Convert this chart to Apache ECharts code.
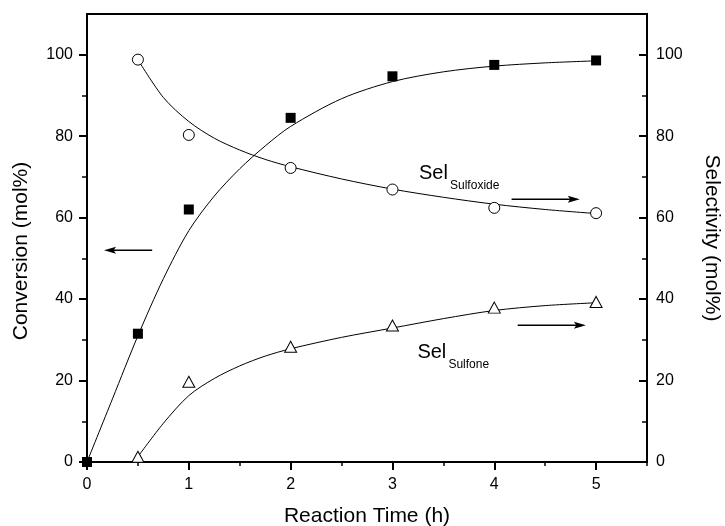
<!DOCTYPE html>
<html>
<head>
<meta charset="utf-8">
<script src="https://cdn.jsdelivr.net/npm/echarts@6/dist/echarts.min.js"></script>
<style>
  html, body { margin: 0; padding: 0; background: #fff; }
  #chart { width: 725px; height: 526px; }
</style>
</head>
<body>
<div id="chart"></div>
<script>
const FONT = '"Liberation Sans", Arial, Helvetica, sans-serif';

// Measured points: conversion (left axis)
const convTime = [0, 0.5, 1, 2, 3, 4, 5];
const conversion = [0, 31.5, 62, 84.5, 94.7, 97.5, 98.6];

// Measured points: selectivities (right axis)
const selTime = [0.5, 1, 2, 3, 4, 5];
const selSulfoxide = [98.8, 80.3, 72.2, 66.9, 62.4, 61.1];
const selSulfone = [1.3, 19.7, 28.3, 33.5, 37.9, 39.3];

// Fitted trend curves
const convFitTime = [0, 0.25, 0.5, 0.75, 1, 1.25, 1.5, 1.75, 2, 2.5, 3, 3.5, 4, 4.5, 5];
const convFit = [0, 15.5, 31, 45, 56.8, 65.3, 72, 77.6, 82.4, 89.2, 93.4, 95.8, 97.2, 98, 98.5];
const selFitTime = [0.5, 0.75, 1, 1.25, 1.5, 1.75, 2, 2.5, 3, 3.5, 4, 4.5, 5];
const sulfoxideFit = [98.8, 89.5, 83.6, 79.5, 76.6, 74.3, 72.5, 69.5, 67.0, 65.0, 63.3, 62.0, 61.0];
const sulfoneFit = [1.3, 9.5, 16.3, 20.5, 23.6, 26, 27.8, 30.6, 32.9, 35.2, 37.2, 38.4, 39.1];

// Axis ticks
const xMajor = [0, 1, 2, 3, 4, 5];
const xMinor = [0.5, 1.5, 2.5, 3.5, 4.5, 5.5];
const yMajor = [0, 20, 40, 60, 80, 100];
const yMinor = [10, 30, 50, 70, 90];

// Arrow annotations in data units (axis: 'left' or 'right')
const arrows = [
  { axis: 'left', y: 52, from: 0.64, to: 0.167 },
  { axis: 'right', y: 64.5, from: 4.17, to: 4.84 },
  { axis: 'right', y: 33.6, from: 4.23, to: 4.90 }
];
// Series labels: main text + subscript, anchored in data units on the right axis
const seriesLabels = [
  { x: 3.261, y: 70.9, main: 'Sel', sub: 'Sulfoxide' },
  { x: 3.245, y: 26.9, main: 'Sel', sub: 'Sulfone' }
];

const zip = (xs, ys) => xs.map((x, i) => [x, ys[i]]);

const chart = echarts.init(document.getElementById('chart'), null, { renderer: 'canvas' });

function xAxisOf(ticks, showLine, len, width, showLabel) {
  return {
    type: 'value', min: 0, max: 5.5, position: 'bottom',
    axisLine: { show: showLine, onZero: false, lineStyle: { color: '#000', width: 2 } },
    axisTick: { show: true, inside: false, length: len, customValues: ticks,
                lineStyle: { color: '#000', width: width } },
    axisLabel: { show: showLabel, customValues: ticks, margin: 15,
                 color: '#000', fontSize: 16, fontFamily: FONT },
    splitLine: { show: false }
  };
}
function yAxisOf(pos, ticks, showLine, len, width, showLabel, inside, margin) {
  return {
    type: 'value', min: 0, max: 110, position: pos,
    axisLine: { show: showLine, onZero: false, lineStyle: { color: '#000', width: 2 } },
    axisTick: { show: true, inside: inside, length: len, customValues: ticks,
                lineStyle: { color: '#000', width: width } },
    axisLabel: { show: showLabel, customValues: ticks, margin: margin,
                 color: '#000', fontSize: 16, fontFamily: FONT },
    splitLine: { show: false }
  };
}

const lineStyle = { color: '#000', width: 1 };

chart.setOption({
  animation: false,
  backgroundColor: '#fff',
  grid: { left: 87, right: 78, top: 14, bottom: 64, show: true,
          borderColor: '#000', borderWidth: 2, backgroundColor: 'transparent' },
  xAxis: [
    xAxisOf(xMajor, true, 8, 2, true),
    xAxisOf(xMinor, false, 4, 1.5, false)
  ],
  yAxis: [
    yAxisOf('left', yMajor, true, 8, 2, true, false, 14),
    yAxisOf('left', yMinor, false, 5, 1.5, false, false, 14),
    yAxisOf('right', yMajor, true, 8, 2, true, true, 9),
    yAxisOf('right', yMinor, false, 5, 1.5, false, true, 9)
  ],
  series: [
    { type: 'line', name: 'Conversion fit', xAxisIndex: 0, yAxisIndex: 0,
      data: zip(convFitTime, convFit), smooth: 0.3, showSymbol: false,
      lineStyle: lineStyle, silent: true, z: 2 },
    { type: 'line', name: 'Sulfoxide fit', xAxisIndex: 0, yAxisIndex: 2,
      data: zip(selFitTime, sulfoxideFit), smooth: 0.3, showSymbol: false,
      lineStyle: lineStyle, silent: true, z: 2 },
    { type: 'line', name: 'Sulfone fit', xAxisIndex: 0, yAxisIndex: 2,
      data: zip(selFitTime, sulfoneFit), smooth: 0.3, showSymbol: false,
      lineStyle: lineStyle, silent: true, z: 2 },
    { type: 'scatter', name: 'Conversion', xAxisIndex: 0, yAxisIndex: 0,
      data: zip(convTime, conversion), symbol: 'rect', symbolSize: 10, clip: false,
      itemStyle: { color: '#000', opacity: 1 }, z: 4 },
    { type: 'scatter', name: 'Sel Sulfoxide', xAxisIndex: 0, yAxisIndex: 2,
      data: zip(selTime, selSulfoxide), symbol: 'circle', symbolSize: 11,
      itemStyle: { color: '#fff', borderColor: '#000', borderWidth: 1, opacity: 1 }, z: 4 },
    { type: 'scatter', name: 'Sel Sulfone', xAxisIndex: 0, yAxisIndex: 2,
      data: zip(selTime, selSulfone), symbol: 'triangle', symbolSize: [12, 11], clip: false,
      itemStyle: { color: '#fff', borderColor: '#000', borderWidth: 1, opacity: 1 }, z: 4 }
  ]
});

// Axis titles and annotations
const toPx = (axis, x, y) =>
  chart.convertToPixel({ xAxisIndex: 0, yAxisIndex: axis === 'left' ? 0 : 2 }, [x, y]);

const graphics = [
  { type: 'text', x: 367, y: 516, z: 10,
    style: { text: 'Reaction Time (h)', fontSize: 21, fontFamily: FONT, fill: '#000',
             align: 'center', verticalAlign: 'middle' } },
  { type: 'text', x: 21, y: 251, rotation: Math.PI / 2, z: 10,
    style: { text: 'Conversion (mol%)', fontSize: 21, fontFamily: FONT, fill: '#000',
             align: 'center', verticalAlign: 'middle' } },
  { type: 'text', x: 712, y: 238, rotation: -Math.PI / 2, z: 10,
    style: { text: 'Selectivity (mol%)', fontSize: 21, fontFamily: FONT, fill: '#000',
             align: 'center', verticalAlign: 'middle' } }
];

arrows.forEach(a => {
  const p0 = toPx(a.axis, a.from, a.y);
  const p1 = toPx(a.axis, a.to, a.y);
  const dir = p1[0] > p0[0] ? 1 : -1;
  const headLen = 12, half = 3.5;
  graphics.push({ type: 'line', z: 10, silent: true,
    shape: { x1: p0[0], y1: p0[1], x2: p1[0] - dir * headLen * 0.6, y2: p1[1] },
    style: { stroke: '#000', lineWidth: 1.5 } });
  graphics.push({ type: 'polygon', z: 10, silent: true,
    shape: { points: [[p1[0], p1[1]], [p1[0] - dir * headLen, p1[1] - half],
                      [p1[0] - dir * headLen * 0.8, p1[1]], [p1[0] - dir * headLen, p1[1] + half]] },
    style: { fill: '#000' } });
});

seriesLabels.forEach(l => {
  const p = toPx('right', l.x, l.y);
  graphics.push({ type: 'text', x: p[0], y: p[1], z: 10,
    style: { text: l.main, fontSize: 20, fontFamily: FONT, fill: '#000',
             align: 'left', verticalAlign: 'middle' } });
  graphics.push({ type: 'text', x: p[0] + 31, y: p[1] + 12.5, z: 10,
    style: { text: l.sub, fontSize: 12, fontFamily: FONT, fill: '#000',
             align: 'left', verticalAlign: 'middle' } });
});

chart.setOption({ graphic: graphics });
</script>
</body>
</html>
